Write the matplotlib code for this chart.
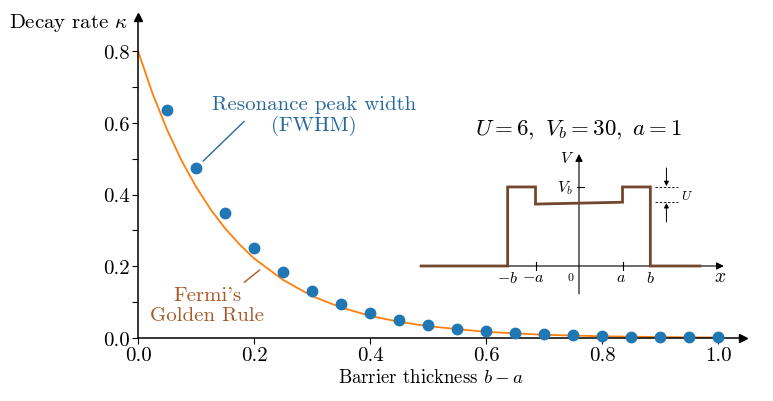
import matplotlib
matplotlib.use('Agg')
import matplotlib.pyplot as plt

plt.rcParams['font.family'] = ['cmr10', 'DejaVu Serif']
plt.rcParams['mathtext.fontset'] = 'cm'
plt.rcParams['axes.formatter.use_mathtext'] = True

# ---------------- data ----------------
fwhm_x = [0.05, 0.10, 0.15, 0.20, 0.25, 0.30, 0.35, 0.40, 0.45, 0.50,
          0.55, 0.60, 0.65, 0.70, 0.75, 0.80, 0.85, 0.90, 0.95, 1.00]
fwhm_y = [0.637, 0.474, 0.348, 0.252, 0.183, 0.132, 0.095, 0.069, 0.050, 0.036,
          0.025, 0.019, 0.014, 0.010, 0.0075, 0.005, 0.004, 0.003, 0.002, 0.0015]

fgr_x = [0.0, 0.025, 0.05, 0.075, 0.10, 0.125, 0.15, 0.175, 0.20, 0.25, 0.30,
         0.35, 0.40, 0.45, 0.50, 0.60, 0.70, 0.80, 0.90, 1.00]
fgr_y = [0.800, 0.682, 0.581, 0.495, 0.422, 0.359, 0.306, 0.261, 0.222, 0.162, 0.117,
         0.085, 0.062, 0.045, 0.033, 0.017, 0.009, 0.0048, 0.0025, 0.0013]

x_ticks = [0.0, 0.2, 0.4, 0.6, 0.8, 1.0]
x_ticklabels = ['0.0', '0.2', '0.4', '0.6', '0.8', '1.0']
y_ticks = [0.0, 0.2, 0.4, 0.6, 0.8]
y_ticklabels = ['0.0', '0.2', '0.4', '0.6', '0.8']
y_minor = [0.1, 0.3, 0.5, 0.7]

# inset potential (U=6, Vb=30, a=1)
pot_x = [-3.63, -1.64, -1.64, -1.0, -1.0, 1.0, 1.0, 1.64, 1.64, 2.78]
pot_v = [0, 0, 30, 30, 23.5, 24.2, 30, 30, 0, 0]

C_DOT = '#1f77b4'
C_CURVE = '#ff7f0e'
C_RES_TXT = '#2a699b'
C_FGR_TXT = '#a85a28'
C_POT = '#73472d'
FS = 15

fig = plt.figure(figsize=(7.73, 4.02), dpi=100)
ax = fig.add_axes([138/773, 63/402, 605/773, 321/402])
ax.set_xlim(0, 1.043)
ax.set_ylim(0, 0.895)

ax.plot(fgr_x, fgr_y, color=C_CURVE, lw=1.3, zorder=2)
ax.plot(fwhm_x, fwhm_y, 'o', color=C_DOT, ms=7.5, zorder=3, clip_on=False)

for s in ['top', 'right']:
    ax.spines[s].set_visible(False)
for s in ['left', 'bottom']:
    ax.spines[s].set_linewidth(1.1)
ax.plot(1, 0, '>k', ms=6, transform=ax.get_yaxis_transform(), clip_on=False, zorder=5)
ax.plot(0, 1, '^k', ms=6, transform=ax.get_xaxis_transform(), clip_on=False, zorder=5)

ax.set_xticks(x_ticks)
ax.set_xticklabels(x_ticklabels)
ax.set_yticks(y_ticks)
ax.set_yticklabels(y_ticklabels)
ax.set_yticks(y_minor, minor=True)
ax.tick_params(axis='both', which='major', length=4, width=0.8, labelsize=FS, pad=2)
ax.tick_params(axis='y', which='minor', length=4, width=0.8)

ax.text(-0.017, 0.881, r'Decay rate $\kappa$', ha='right', va='center', fontsize=FS)
ax.set_xlabel(r'Barrier thickness $b-a$', fontsize=13.5)
ax.xaxis.set_label_coords(0.505/1.043, -0.095)

ax.text(0.303, 0.622, 'Resonance peak width\n(FWHM)', ha='center', va='center',
        color=C_RES_TXT, fontsize=FS, linespacing=1.15)
ax.annotate('', xy=(0.1, 0.474), xytext=(0.183, 0.604),
            arrowprops=dict(arrowstyle='-', color=C_RES_TXT, lw=1.0, shrinkA=0, shrinkB=7))

ax.text(0.119, 0.093, "Fermi's\nGolden Rule", ha='center', va='center',
        color=C_FGR_TXT, fontsize=FS, linespacing=1.15)
ax.annotate('', xy=(0.210, 0.190), xytext=(0.183, 0.155),
            arrowprops=dict(arrowstyle='-', color=C_FGR_TXT, lw=1.0, shrinkA=0, shrinkB=0))

# ---------------- inset ----------------
iax = fig.add_axes([415/773, 102/402, 320/773, 155/402])
iax.set_xlim(-3.77, 3.586)
iax.set_ylim(-12.53, 46.3)
iax.axis('off')

iax.annotate('', xy=(3.33, 0), xytext=(-3.63, 0),
             arrowprops=dict(arrowstyle='-|>', color='k', lw=0.8, mutation_scale=11,
                             shrinkA=0, shrinkB=0))
iax.annotate('', xy=(0, 42.5), xytext=(0, -10.6),
             arrowprops=dict(arrowstyle='-|>', color='k', lw=0.8, mutation_scale=11,
                             shrinkA=0, shrinkB=0))
iax.plot(pot_x, pot_v, color=C_POT, lw=2.0, zorder=3, solid_joinstyle='miter')

for xt in [-1.0, 1.0]:
    iax.plot([xt, xt], [-1.6, 1.6], color='k', lw=0.8)
iax.plot([-0.05, 0.12], [30, 30], color='k', lw=0.8)

iax.text(-1.64, -1.6, r'$-b$', ha='center', va='top', fontsize=11.5)
iax.text(-1.05, -1.6, r'$-a$', ha='center', va='top', fontsize=11.5)
iax.text(-0.2, -1.6, r'$0$', ha='center', va='top', fontsize=8.5)
iax.text(0.96, -1.6, r'$a$', ha='center', va='top', fontsize=11.5)
iax.text(1.65, -1.6, r'$b$', ha='center', va='top', fontsize=11.5)
iax.text(3.24, -3.8, r'$x$', ha='center', va='center', fontsize=14)
iax.text(-0.12, 41, r'$V$', ha='right', va='center', fontsize=11.5)
iax.text(-0.15, 30, r'$V_b$', ha='right', va='center', fontsize=11.5)

iax.plot([1.75, 2.28], [30, 30], color='k', lw=0.6, ls=(0, (3, 2)))
iax.plot([1.75, 2.28], [24.2, 24.2], color='k', lw=0.6, ls=(0, (3, 2)))
iax.annotate('', xy=(2.01, 30.3), xytext=(2.01, 37.2),
             arrowprops=dict(arrowstyle='-|>', color='k', lw=0.7, mutation_scale=7,
                             shrinkA=0, shrinkB=0))
iax.annotate('', xy=(2.01, 23.9), xytext=(2.01, 16.7),
             arrowprops=dict(arrowstyle='-|>', color='k', lw=0.7, mutation_scale=7,
                             shrinkA=0, shrinkB=0))
iax.text(2.48, 26.7, r'$U$', ha='center', va='center', fontsize=9.5)

iax.text(0.0, 52.0, r'$U=6,\ V_b=30,\ a=1$', ha='center', va='center', fontsize=16.5,
         clip_on=False)

fig.savefig('out.png', dpi=100)
